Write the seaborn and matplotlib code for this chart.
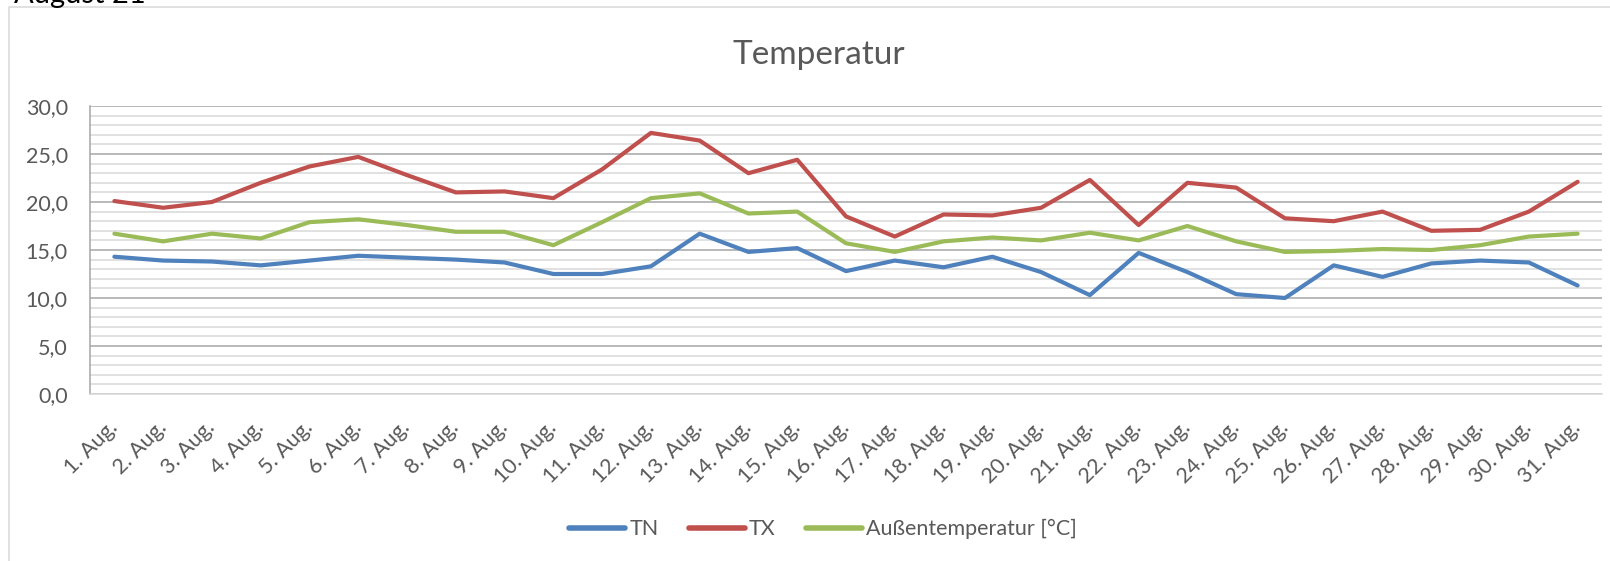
import numpy as np
import pandas as pd
import matplotlib
matplotlib.use("Agg")
import matplotlib.pyplot as plt
from matplotlib.patches import Rectangle
from matplotlib.lines import Line2D
from matplotlib.ticker import MultipleLocator, FuncFormatter
import seaborn as sns

# ---------------------------------------------------------------- data
tage = [f"{d}. Aug." for d in range(1, 32)]
tn = [14.3, 13.9, 13.8, 13.4, 13.9, 14.4, 14.2, 14.0, 13.7, 12.5, 12.5, 13.3, 16.7, 14.8, 15.2, 12.8,
      13.9, 13.2, 14.3, 12.7, 10.3, 14.7, 12.7, 10.4, 10.0, 13.4, 12.2, 13.6, 13.9, 13.7, 11.3]
tx = [20.1, 19.4, 20.0, 22.0, 23.7, 24.7, 22.8, 21.0, 21.1, 20.4, 23.4, 27.2, 26.4, 23.0, 24.4, 18.5,
      16.4, 18.7, 18.6, 19.4, 22.3, 17.6, 22.0, 21.5, 18.3, 18.0, 19.0, 17.0, 17.1, 19.0, 22.1]
aussen = [16.7, 15.9, 16.7, 16.2, 17.9, 18.2, 17.6, 16.9, 16.9, 15.5, 17.9, 20.4, 20.9, 18.8, 19.0, 15.7,
          14.8, 15.9, 16.3, 16.0, 16.8, 16.0, 17.5, 15.9, 14.8, 14.9, 15.1, 15.0, 15.5, 16.4, 16.7]
reihen = ["TN", "TX", "Außentemperatur [°C]"]
farben = ["#4F81BD", "#C0504D", "#9BBB59"]

df = pd.concat([pd.DataFrame({"Tag": tage, "Wert": v, "Reihe": r})
                for r, v in zip(reihen, [tn, tx, aussen])], ignore_index=True)

# ---------------------------------------------------------------- style
sns.set_theme(style="white")
plt.rcParams["font.family"] = ["Lato", "DejaVu Sans"]
TXT = "#595959"
W, H = 1610, 561

fig = plt.figure(figsize=(W / 100, H / 100), dpi=100)
ax = fig.add_axes([90 / W, 1 - 394 / H, (1602 - 90) / W, (394 - 106) / H])

sns.lineplot(data=df, x="Tag", y="Wert", hue="Reihe", hue_order=reihen,
             palette=dict(zip(reihen, farben)), sort=False, lw=3.0, ax=ax,
             legend=False, solid_capstyle="round", solid_joinstyle="round", zorder=3)

ax.set_xlim(-0.5, len(tage) - 0.5)
ax.set_ylim(0, 30)
ax.yaxis.set_major_locator(MultipleLocator(5))
ax.yaxis.set_minor_locator(MultipleLocator(1))
ax.yaxis.set_major_formatter(FuncFormatter(lambda v, p: f"{v:.1f}".replace(".", ",")))
ax.grid(which="minor", axis="y", color="#D9D9D9", lw=1.1)
ax.grid(which="major", axis="y", color="#A6A6A6", lw=1.1)
ax.set_axisbelow(True)
for s in ["top", "right"]:
    ax.spines[s].set_visible(False)
ax.spines["left"].set_color("#A6A6A6")
ax.spines["left"].set_linewidth(1.1)
ax.spines["bottom"].set_color("#D9D9D9")
ax.spines["bottom"].set_linewidth(1.1)
ax.set_xlabel("")
ax.set_ylabel("")
ax.tick_params(axis="y", which="both", length=0, pad=16, labelsize=15.5, labelcolor=TXT)
ax.tick_params(axis="x", length=0, pad=22, labelsize=15.5, labelcolor=TXT)
ax.set_xticks(range(len(tage)))
ax.set_xticklabels(tage, rotation=45, ha="right", va="center", rotation_mode="anchor")

fig.text(819 / W, 1 - 64 / H, "Temperatur", ha="center", va="baseline", fontsize=24, color=TXT)
# page heading above the chart, cut off by the top edge as in the original
fig.text(14 / W, 1 - 3 / H, "August 21", ha="left", va="baseline", fontsize=21, color="black")

handles = [Line2D([0], [0], color=c, lw=4, solid_capstyle="round") for c in farben]
fig.legend(handles, reihen, loc="center", bbox_to_anchor=(823 / W, 1 - 529 / H), ncol=3,
           frameon=False, fontsize=15.5, labelcolor=TXT, handlelength=2.6,
           handletextpad=0.2, columnspacing=1.4)

# outer chart border (runs off right and bottom edges)
fig.add_artist(Rectangle((8.5 / W, -0.1), 1.2, 1.1 - 7 / H, transform=fig.transFigure,
                         fill=False, ec="#D9D9D9", lw=1.1))

fig.savefig("out.png", dpi=100)
